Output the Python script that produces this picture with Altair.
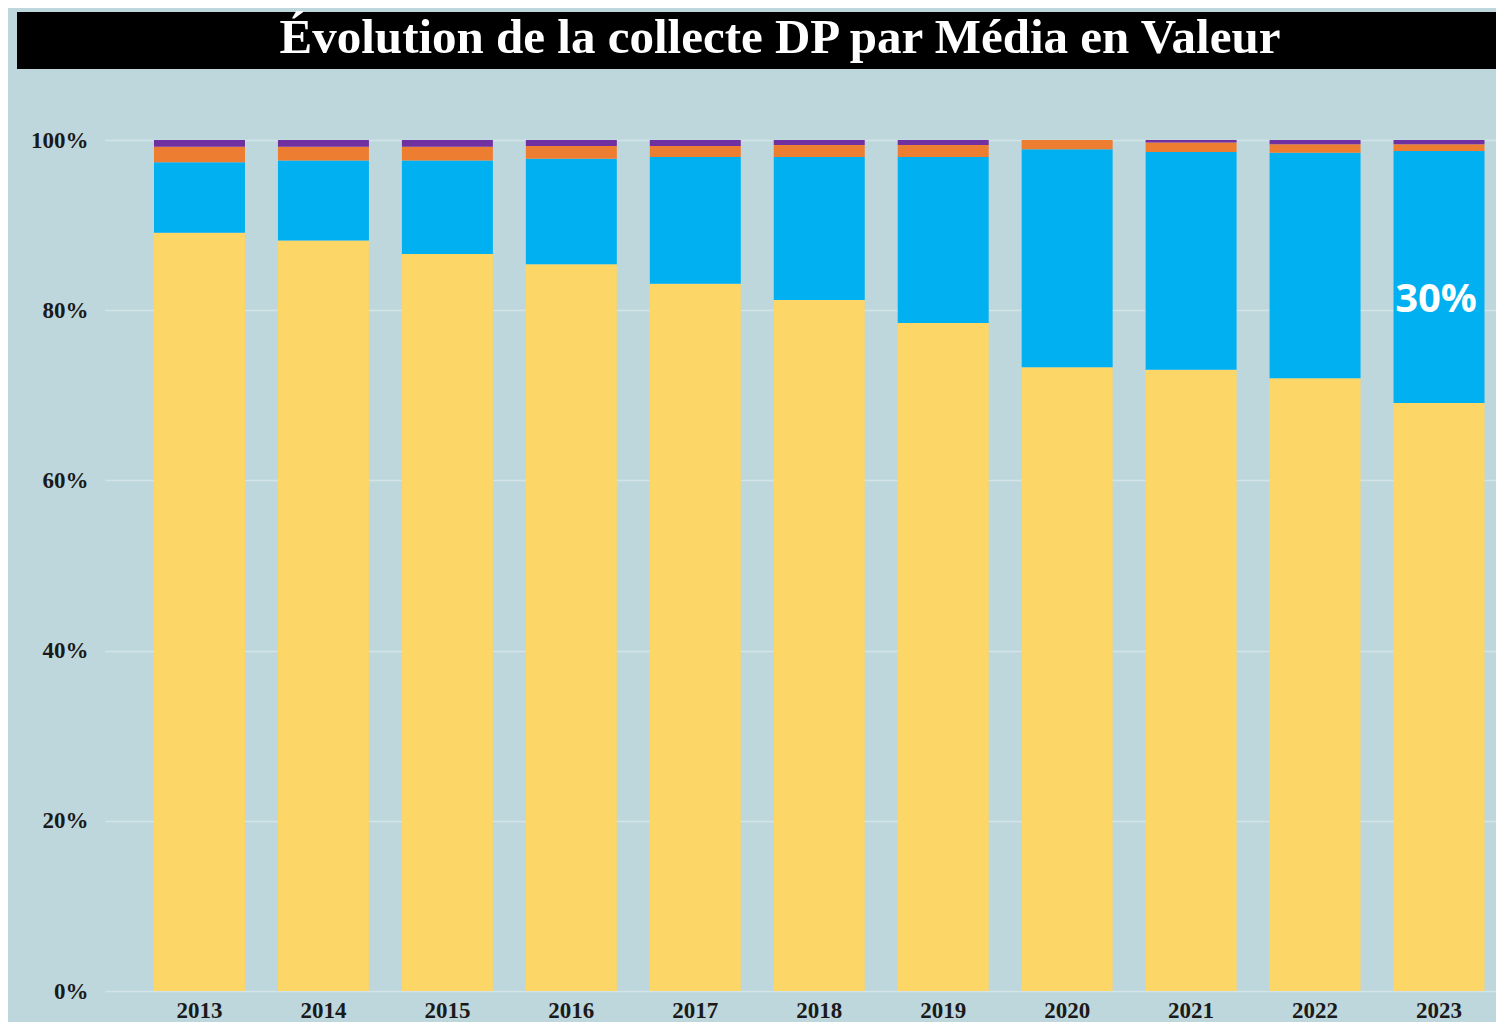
import altair as alt
import pandas as pd

years = ["2013", "2014", "2015", "2016", "2017", "2018", "2019", "2020", "2021", "2022", "2023"]
series = ["Courrier", "Internet", "Téléphone", "Autres"]
courrier = [89.1, 88.2, 86.6, 85.4, 83.1, 81.2, 78.5, 73.3, 73.0, 72.0, 69.1]
internet = [8.3, 9.4, 11.0, 12.4, 14.9, 16.8, 19.5, 25.6, 25.6, 26.5, 29.6]
telephone = [1.8, 1.6, 1.6, 1.5, 1.3, 1.4, 1.4, 1.1, 1.1, 1.0, 0.8]
autres = [0.8, 0.8, 0.8, 0.7, 0.7, 0.6, 0.6, 0.0, 0.3, 0.5, 0.5]
colors = ["#FCD667", "#00B0F0", "#ED7D31", "#7030A0"]
title_text = "Évolution de la collecte DP par Média en Valeur"
label_year = "2023"

rows = []
for i, y in enumerate(years):
    for k, (s, vals) in enumerate(zip(series, [courrier, internet, telephone, autres])):
        rows.append({"annee": y, "media": s, "valeur": vals[i], "ordre": k})
df = pd.DataFrame(rows)

li = years.index(label_year)
lab = pd.DataFrame([{
    "annee": label_year,
    "pos": (courrier[li] + internet[li] / 2) / 100.0,
    "txt": f"{round(internet[li]):.0f}%",
}])

W, H = 1391, 851
serif = "Liberation Serif"

xenc = alt.X("annee:N", sort=years, title=None,
             scale=alt.Scale(paddingInner=0.266, paddingOuter=0.244, align=0.81),
             axis=alt.Axis(labelAngle=0, labelFont=serif, labelFontWeight="bold",
                           labelFontSize=23, labelColor="#1a1a1a", labelPadding=8,
                           ticks=False, domain=False, grid=False))

bars = alt.Chart(df).mark_bar().encode(
    x=xenc,
    y=alt.Y("valeur:Q", stack="normalize", title=None,
            scale=alt.Scale(domain=[0, 1], nice=False),
            axis=alt.Axis(format=".0%", values=[0, 0.2, 0.4, 0.6, 0.8, 1.0],
                          labelFont=serif, labelFontWeight="bold", labelFontSize=23,
                          labelColor="#1a1a1a", labelPadding=17, ticks=False,
                          domain=False, grid=True, gridColor="#D3E4E8", gridWidth=1.5)),
    color=alt.Color("media:N", sort=series,
                    scale=alt.Scale(domain=series, range=colors), legend=None),
    order=alt.Order("ordre:Q", sort="ascending"),
)

label = alt.Chart(lab).mark_text(
    font="Open Sans", fontWeight="bold", fontSize=40, color="white", dy=23, dx=-3
).encode(
    x=alt.X("annee:N", sort=years),
    y=alt.Y("pos:Q"),
    text="txt:N",
)

bar_bg = alt.Chart(pd.DataFrame({"t": [title_text]})).mark_rect(color="black").encode(
    x=alt.value(-88), x2=alt.value(W), y=alt.value(-128), y2=alt.value(-71)
)
title = alt.Chart(pd.DataFrame({"t": [title_text]})).mark_text(
    font=serif, fontWeight="bold", fontSize=49, color="white",
    align="center", baseline="alphabetic"
).encode(x=alt.value(675), y=alt.value(-87), text="t:N")

chart = alt.layer(bar_bg, title, bars, label).properties(
    width=W, height=H,
    background="#BED7DC",
    padding={"left": 9, "top": 4, "right": 0, "bottom": 0},
).configure_view(stroke=None)

chart.save("out.html", embed_options={"renderer": "svg", "actions": False})
